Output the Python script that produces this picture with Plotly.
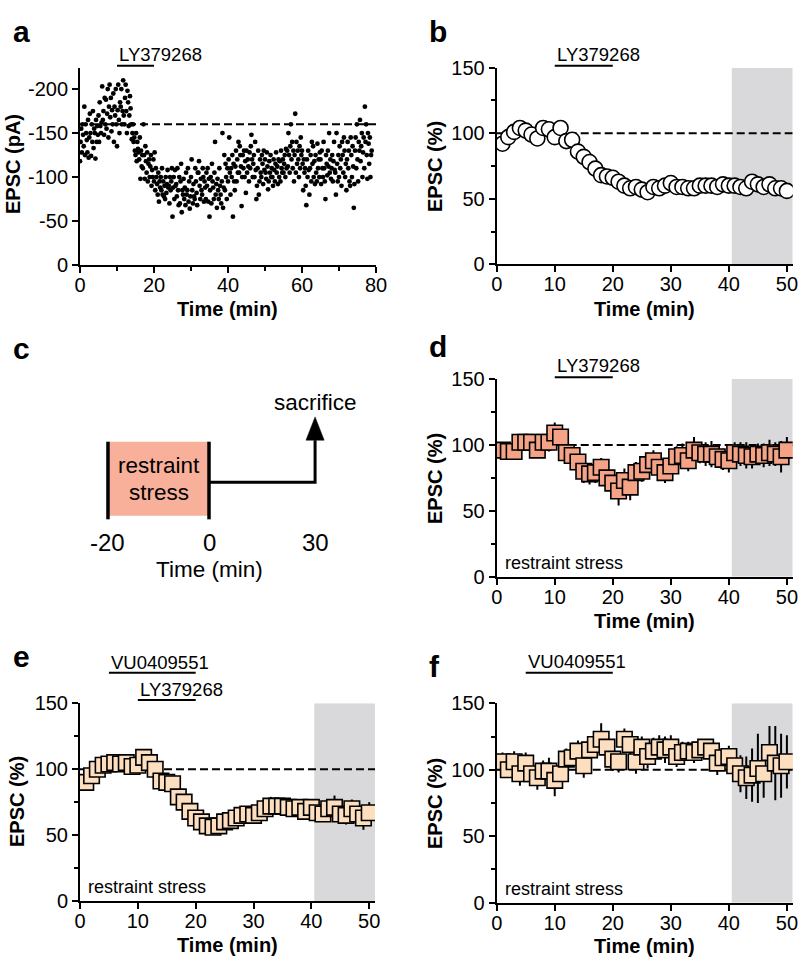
import plotly.graph_objects as go

FONT = "Arial, 'Liberation Sans', Helvetica, sans-serif"
W, H = 800, 964

# ---------------- data ----------------
# panel a: single-cell EPSC amplitude (pA, inward), one sweep every 10 s
a_amp_pA = [
    118, 140, 155, 128, 160, 148,
    135, 180, 125, 160, 150, 142,
    128, 165, 122, 145, 172, 150,
    124, 160, 140, 175, 133, 155,
    150, 121, 165, 140, 158, 148,
    170, 140, 185, 158, 150, 162,
    203, 165, 175, 148, 190, 160,
    188, 155, 172, 200, 145, 180,
    205, 168, 190, 152, 176, 160,
    195, 140, 180, 170, 200, 160,
    135, 176, 205, 165, 150, 185,
    180, 200, 160, 175, 210, 170,
    160, 190, 205, 175, 150, 198,
    185, 158, 170, 192, 178, 160,
    143, 150, 160, 140, 145, 130,
    125, 150, 118, 140, 132, 128,
    120, 145, 98, 130, 112, 125,
    110, 160, 125, 98, 135, 118,
    105, 128, 95, 115, 120, 100,
    112, 125, 90, 108, 100, 120,
    95, 128, 85, 110, 100, 92,
    80, 105, 72, 95, 88, 100,
    85, 110, 80, 95, 78, 90,
    75, 100, 82, 92, 108, 88,
    90, 70, 100, 85, 95, 110,
    55, 88, 100, 75, 108, 90,
    92, 78, 110, 85, 68, 100,
    70, 95, 115, 60, 85, 80,
    98, 75, 88, 68, 105, 80,
    85, 110, 72, 95, 64, 78,
    100, 120, 85, 70, 92, 78,
    75, 110, 95, 82, 68, 105,
    105, 118, 90, 75, 98, 85,
    80, 110, 100, 72, 95, 88,
    75, 105, 90, 110, 72, 98,
    55, 85, 100, 70, 115, 95,
    88, 75, 105, 140, 80, 92,
    65, 98, 85, 75, 110, 90,
    80, 70, 95, 150, 65, 88,
    125, 85, 115, 100, 75, 110,
    95, 120, 145, 105, 80, 110,
    100, 125, 55, 115, 95, 85,
    112, 130, 95, 120, 105, 140,
    105, 135, 125, 112, 67, 100,
    125, 110, 130, 100, 118, 82,
    130, 105, 120, 112, 95, 128,
    110, 135, 148, 120, 100, 115,
    125, 100, 140, 108, 75, 90,
    110, 130, 80, 95, 120, 105,
    100, 125, 115, 92, 130, 108,
    120, 105, 98, 128, 112, 86,
    95, 118, 105, 125, 100, 110,
    100, 90, 120, 108, 95, 115,
    128, 105, 112, 92, 120, 100,
    118, 95, 130, 110, 105, 120,
    105, 115, 125, 100, 132, 110,
    130, 112, 150, 125, 105, 135,
    160, 120, 140, 110, 130, 95,
    125, 172, 105, 140, 115, 130,
    120, 100, 135, 110, 145, 125,
    130, 115, 85, 120, 105, 110,
    90, 68, 120, 100, 130, 108,
    80, 110, 125, 95, 140, 115,
    135, 100, 118, 92, 125, 105,
    95, 138, 110, 120, 100, 128,
    120, 92, 130, 110, 100, 140,
    110, 95, 75, 125, 115, 102,
    130, 112, 150, 105, 120, 98,
    110, 125, 95, 118, 140, 108,
    105, 80, 150, 115, 95, 125,
    100, 135, 110, 120, 90, 140,
    125, 105, 145, 130, 100, 115,
    85, 120, 140, 110, 130, 95,
    90, 145, 125, 100, 135, 112,
    65, 92, 130, 145, 110, 160,
    120, 95, 140, 130, 165, 118,
    135, 150, 100, 128, 145, 110,
    180, 140, 160, 125, 98, 150,
    138, 115, 145, 100, 125, 130,
]
a_epsc_pA = [-v for v in a_amp_pA]
a_time_min = [i / 6 for i in range(len(a_amp_pA))]
a_baseline_pA = -160
a_yticks = [0, -50, -100, -150, -200]
a_yticklabels = ["0", "-50", "-100", "-150", "-200"]

minutes = list(range(1, 51))

b_epsc = [92, 97, 101, 104, 102, 99, 96, 104, 103, 97,
          104, 94, 95, 86, 82, 78, 73, 68, 67, 66,
          63, 60, 58, 59, 57, 55, 59, 58, 60, 62,
          59, 59, 58, 58, 60, 60, 60, 59, 61, 60,
          60, 59, 58, 63, 61, 59, 61, 58, 58, 56]
b_sem = [5, 4, 4, 5, 4, 5, 4, 5, 4, 5,
         5, 6, 5, 5, 5, 5, 6, 6, 5, 6,
         5, 5, 5, 5, 5, 5, 5, 5, 5, 5,
         4, 4, 4, 5, 4, 4, 4, 5, 4, 4,
         5, 5, 4, 5, 5, 5, 5, 5, 6, 5]

d_epsc = [96, 95, 95, 102, 102, 102, 96, 102, 102, 109,
          106, 94, 92, 87, 80, 78, 79, 83, 75, 71,
          65, 73, 68, 79, 80, 85, 88, 83, 79, 84,
          91, 92, 88, 96, 94, 93, 93, 91, 89, 88,
          94, 93, 92, 91, 93, 92, 94, 93, 91, 96]
d_sem = [5, 6, 5, 6, 5, 6, 5, 6, 7, 8,
         8, 7, 7, 8, 9, 8, 8, 7, 8, 9,
         11, 9, 10, 8, 8, 9, 8, 9, 8, 7,
         8, 9, 8, 10, 8, 9, 10, 8, 8, 9,
         8, 9, 10, 9, 8, 9, 10, 9, 12, 10]

e_epsc = [90, 95, 100, 103, 104, 105, 104, 105, 102, 103,
          109, 105, 100, 91, 90, 89, 79, 75, 68, 63,
          60, 57, 56, 57, 60, 61, 63, 65, 66, 65,
          67, 70, 72, 72, 72, 71, 70, 71, 68, 71,
          67, 66, 70, 71, 66, 65, 70, 66, 63, 67]
e_sem = [6, 6, 6, 6, 5, 5, 5, 5, 6, 6,
         6, 6, 6, 6, 6, 6, 6, 6, 6, 6,
         5, 5, 5, 5, 5, 5, 5, 5, 5, 5,
         6, 6, 7, 6, 6, 6, 6, 6, 6, 6,
         6, 6, 7, 9, 7, 7, 7, 9, 9, 8]

f_epsc = [106, 100, 106, 97, 105, 97, 94, 99, 99, 92,
          97, 108, 109, 114, 103, 115, 119, 123, 117, 108,
          106, 123, 119, 106, 117, 110, 114, 117, 115, 117,
          110, 113, 114, 113, 115, 117, 114, 105, 109, 110,
          103, 97, 94, 96, 101, 97, 113, 105, 103, 106]
f_sem = [7, 6, 8, 9, 8, 7, 9, 8, 10, 12,
         11, 8, 7, 8, 9, 9, 10, 12, 11, 9,
         8, 8, 9, 9, 8, 9, 10, 9, 10, 9,
         8, 8, 7, 8, 7, 6, 8, 9, 7, 8,
         10, 14, 16, 20, 26, 18, 20, 28, 24, 20]

baseline_pct = 100
ly_window = (10, 20)
vu_window = (5, 20)
analysis_window = (40.5, 51)
pct_ticks = [0, 50, 100, 150]
min_ticks = [0, 10, 20, 30, 40, 50]

# panel c schematic timeline (not to scale)
c_tick_labels = ["-20", "0", "30"]
c_tick_pos = [0, 1, 2.05]

# ---------------- colours ----------------
SALMON = "#F5A386"
PEACH = "#FDDFBF"
BOX = "#F8B09A"
GREY = "#D9D9DB"


def px(xp):
    return xp / W


def py(yp):
    return 1 - yp / H


def axis(dom, rng, **kw):
    d = dict(domain=dom, range=rng, showline=True, linecolor="black", linewidth=2,
             ticks="outside", ticklen=6, tickwidth=2, tickcolor="black",
             tickfont=dict(size=20, family=FONT, color="black"),
             showgrid=False, zeroline=False, fixedrange=True, automargin=False)
    d.update(kw)
    return d


def xaxis(dom, rng, **kw):
    return axis(dom, rng, ticklabelstandoff=-5, **kw)


minor_y = dict(ticks="outside", ticklen=4, tickwidth=2, tickcolor="black",
               tickvals=[25, 75, 125], showgrid=False)

XB = [px(496.7), px(792.7)]
XL = [px(80), px(376)]
XE = [px(80), px(375)]

layout = dict(
    template="none",
    width=W, height=H, margin=dict(l=0, r=0, t=0, b=0, pad=0, autoexpand=False),
    paper_bgcolor="white", plot_bgcolor="rgba(0,0,0,0)", showlegend=False,
    font=dict(family=FONT, color="black"),
    # a
    xaxis=xaxis(XL, [0, 80], tickvals=[0, 20, 40, 60, 80], anchor="y",
                minor=dict(ticks="outside", ticklen=4, tickwidth=2, tickcolor="black",
                           tickvals=[10, 30, 50, 70], showgrid=False)),
    yaxis=axis([py(265), py(68)], [0, -224], tickmode="array", tickvals=a_yticks,
               ticktext=a_yticklabels, anchor="x"),
    # b
    xaxis2=xaxis(XB, [0, 51], tickvals=min_ticks, anchor="y2"),
    yaxis2=axis([py(264.3), py(67.7)], [0, 150], tickvals=pct_ticks, anchor="x2", minor=minor_y),
    # c (schematic)
    xaxis3=dict(domain=XL, range=[-0.277, 2.653], visible=False, fixedrange=True,
                anchor="y3", automargin=False),
    yaxis3=dict(domain=[py(580), py(385)], range=[-0.782, 1.731], visible=False,
                fixedrange=True, anchor="x3", automargin=False),
    # d
    xaxis4=xaxis(XB, [0, 51], tickvals=min_ticks, anchor="y4"),
    yaxis4=axis([py(576.7), py(379)], [0, 150], tickvals=pct_ticks, anchor="x4", minor=minor_y),
    # e
    xaxis5=xaxis(XE, [0, 51], tickvals=min_ticks, anchor="y5"),
    yaxis5=axis([py(901), py(703.3)], [0, 150], tickvals=pct_ticks, anchor="x5", minor=minor_y),
    # f
    xaxis6=xaxis(XB, [0, 51], tickvals=min_ticks, anchor="y6"),
    yaxis6=axis([py(902.7), py(703.3)], [0, 150], tickvals=pct_ticks, anchor="x6", minor=minor_y),
)

fig = go.Figure(layout=layout)

DASH = dict(color="black", width=2, dash="8px,4px")


def baseline(xa, ya, x1, yv):
    fig.add_trace(go.Scatter(x=[0, x1], y=[yv, yv], mode="lines", line=DASH,
                             xaxis=xa, yaxis=ya, hoverinfo="skip"))


# a
baseline("x", "y", 80, a_baseline_pA)
fig.add_trace(go.Scatter(x=a_time_min, y=a_epsc_pA, mode="markers",
                         marker=dict(size=4.8, color="black"), xaxis="x", yaxis="y"))


def group_panel(xa, ya, vals, sem, fill, symbol, size):
    baseline(xa, ya, 51, baseline_pct)
    fig.add_trace(go.Scatter(
        x=minutes, y=vals, mode="markers", xaxis=xa, yaxis=ya,
        error_y=dict(type="data", array=sem, visible=True, color="black",
                     thickness=2, width=0),
        marker=dict(symbol=symbol, size=size, color=fill,
                    line=dict(color="black", width=1.6))))


group_panel("x2", "y2", b_epsc, b_sem, "white", "circle", 15)
group_panel("x4", "y4", d_epsc, d_sem, SALMON, "square", 15.5)
group_panel("x5", "y5", e_epsc, e_sem, PEACH, "square", 15.5)
group_panel("x6", "y6", f_epsc, f_sem, PEACH, "square", 15.5)

shapes = []
annotations = []

# grey analysis windows
for xa, ya in [("x2", "y2"), ("x4", "y4"), ("x5", "y5"), ("x6", "y6")]:
    shapes.append(dict(type="rect", xref=xa, yref=ya, x0=analysis_window[0],
                       x1=analysis_window[1], y0=0, y1=150, fillcolor=GREY,
                       line=dict(width=0), layer="below"))


def drug(xa, window, label, text_y, bar_y):
    shapes.append(dict(type="line", xref=xa, yref="paper", x0=window[0], x1=window[1],
                       y0=py(bar_y), y1=py(bar_y), line=dict(color="black", width=2)))
    annotations.append(dict(text=label, xref=xa, yref="paper", x=window[0], y=py(text_y),
                            xanchor="left", yanchor="middle", showarrow=False,
                            font=dict(size=18.5, family=FONT, color="black")))


drug("x", ly_window, "LY379268", 54, 65.7)
drug("x2", ly_window, "LY379268", 54, 65.7)
drug("x4", ly_window, "LY379268", 365.5, 377.3)
drug("x5", vu_window, "VU0409551", 662.7, 672.7)
drug("x5", ly_window, "LY379268", 689.3, 700)
drug("x6", vu_window, "VU0409551", 661.7, 672.7)

for xa, ya in [("x4", "y4"), ("x5", "y5"), ("x6", "y6")]:
    annotations.append(dict(text="restraint stress", xref=xa, yref=ya, x=1.1, y=10.5,
                            xanchor="left", yanchor="middle", showarrow=False,
                            font=dict(size=18, family=FONT, color="black")))

# axis titles
BOLD = dict(size=20, family=FONT, color="black")


def ytitle(text, xp, yp):
    annotations.append(dict(text="<b>%s</b>" % text, xref="paper", yref="paper",
                            x=px(xp), y=py(yp), textangle=-90, showarrow=False,
                            xanchor="center", yanchor="middle", font=BOLD))


def xtitle(xp, yp):
    annotations.append(dict(text="<b>Time (min)</b>", xref="paper", yref="paper",
                            x=px(xp), y=py(yp), showarrow=False,
                            xanchor="center", yanchor="middle", font=BOLD))


ytitle("EPSC (pA)", 13, 164)
ytitle("EPSC (%)", 435, 166)
ytitle("EPSC (%)", 435, 478)
ytitle("EPSC (%)", 17, 802)
ytitle("EPSC (%)", 435, 803)
xtitle(228, 309)
xtitle(644.7, 309)
xtitle(644.7, 621)
xtitle(227.5, 945)
xtitle(644.7, 946)

# panel letters
for letter, xp, yp in [("a", 21, 32), ("b", 438, 32), ("c", 21, 348),
                       ("d", 438, 346), ("e", 21, 656), ("f", 434, 666)]:
    annotations.append(dict(text="<b>%s</b>" % letter, xref="paper", yref="paper",
                            x=px(xp), y=py(yp), showarrow=False, xanchor="center",
                            yanchor="middle", font=dict(size=30, family=FONT, color="black")))

# panel c schematic
CF = dict(size=22.5, family=FONT, color="black")
shapes.append(dict(type="rect", xref="x3", yref="y3", x0=c_tick_pos[0], x1=c_tick_pos[1],
                   y0=0.047, y1=1, fillcolor=BOX, line=dict(width=0), layer="below"))
for xv in c_tick_pos[:2]:
    shapes.append(dict(type="line", xref="x3", yref="y3", x0=xv, x1=xv, y0=0, y1=1,
                       line=dict(color="black", width=3.5)))
fig.add_trace(go.Scatter(x=[c_tick_pos[1], c_tick_pos[2], c_tick_pos[2]],
                         y=[0.477, 0.477, 1.02], mode="lines",
                         line=dict(color="black", width=3), xaxis="x3", yaxis="y3"))
fig.add_trace(go.Scatter(x=[c_tick_pos[2] - 0.09, c_tick_pos[2] + 0.09, c_tick_pos[2],
                            c_tick_pos[2] - 0.09],
                         y=[1.02, 1.02, 1.32, 1.02], mode="lines", fill="toself",
                         fillcolor="black", line=dict(color="black", width=0.5),
                         xaxis="x3", yaxis="y3"))
annotations.append(dict(text="restraint", xref="x3", yref="y3", x=0.5, y=0.70,
                        showarrow=False, font=CF))
annotations.append(dict(text="stress", xref="x3", yref="y3", x=0.5, y=0.345,
                        showarrow=False, font=CF))
annotations.append(dict(text="sacrifice", xref="x3", yref="y3", x=c_tick_pos[2], y=1.51,
                        showarrow=False, font=CF))
for xv, lab in zip(c_tick_pos, c_tick_labels):
    annotations.append(dict(text=lab, xref="x3", yref="y3", x=xv, y=-0.305,
                            showarrow=False, font=dict(size=24, family=FONT, color="black")))
annotations.append(dict(text="Time (min)", xref="x3", yref="y3", x=1.0, y=-0.65,
                        showarrow=False, font=CF))

fig.update_layout(shapes=shapes, annotations=annotations)
# remove the browser's default 8 px body margin so the figure fills the window exactly
fig.write_html("out.html", config={"displayModeBar": False},
               post_script="document.body.style.margin='0';document.body.style.overflow='hidden';")
